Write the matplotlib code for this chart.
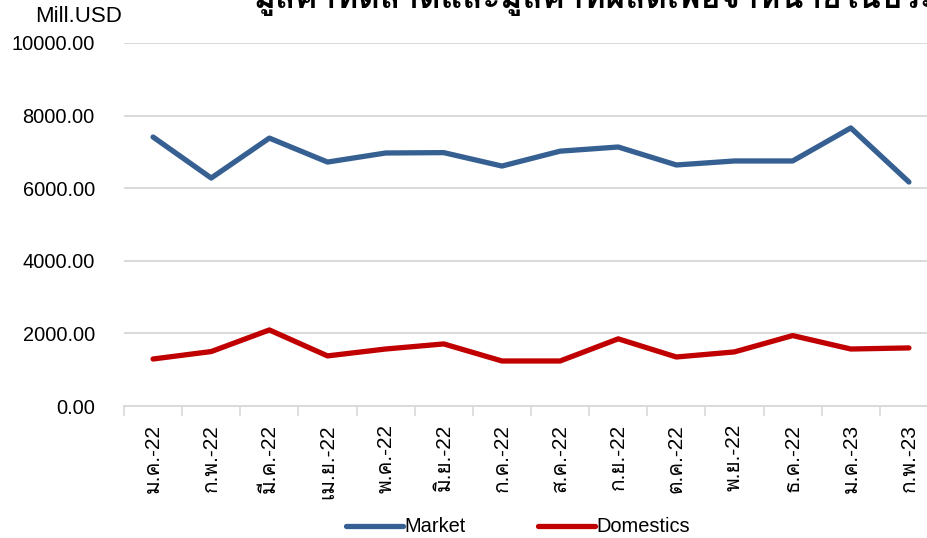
import numpy as np
from matplotlib import pyplot as plt
from matplotlib import font_manager, ft2font

months = ["ม.ค.-22", "ก.พ.-22", "มี.ค.-22", "เม.ย.-22", "พ.ค.-22", "มิ.ย.-22", "ก.ค.-22",
          "ส.ค.-22", "ก.ย.-22", "ต.ค.-22", "พ.ย.-22", "ธ.ค.-22", "ม.ค.-23", "ก.พ.-23"]
market = [7410, 6280, 7380, 6720, 6970, 6980, 6610, 7020, 7135, 6640, 6750, 6750, 7660, 6170]
domestics = [1295, 1500, 2095, 1380, 1570, 1710, 1240, 1240, 1850, 1350, 1490, 1940, 1570, 1600]
title = "มูลค่าที่ตลาดและมูลค่าที่ผลิตเพื่อจำหน่ายในประเทศ"


def find_thai_font():
    # look for any installed font that has Thai glyphs
    for f in font_manager.fontManager.ttflist:
        try:
            cmap = ft2font.FT2Font(f.fname).get_charmap()
        except Exception:
            continue
        if 0x0E01 in cmap and 0x0E48 in cmap:
            return f.name
    return None


thai = find_thai_font()
families = ['Liberation Sans'] + ([thai] if thai else []) + ['DejaVu Sans']
plt.rcParams['font.family'] = families

fig = plt.figure(figsize=(9.28, 5.38), dpi=100)
ax = fig.add_axes([124 / 928, 132 / 538, 814 / 928, 363 / 538])

x = np.arange(len(months))
ax.plot(x, market, color='#366092', lw=3.8, solid_capstyle='round', label='Market')
ax.plot(x, domestics, color='#C00000', lw=3.8, solid_capstyle='round', label='Domestics')

ax.set_xlim(-0.5, len(months) - 0.5)
ax.set_ylim(0, 10000)
ax.set_yticks(np.arange(0, 10001, 2000))
ax.set_yticklabels([f'{v:.2f}' for v in np.arange(0, 10001, 2000)], fontsize=14.4)
ax.yaxis.grid(True, color='#D9D9D9', lw=1.4)
ax.set_axisbelow(True)

ax.set_xticks(x)
ax.set_xticklabels(months, rotation=90, fontsize=15)
ax.set_xticks(np.arange(-0.5, len(months)), minor=True)
ax.tick_params(axis='x', which='major', length=0, pad=13)
ax.tick_params(axis='x', which='minor', length=7, color='#D9D9D9', width=1.2)
ax.tick_params(axis='y', length=0, pad=21)

for side in ['left', 'right', 'top']:
    ax.spines[side].set_visible(False)
ax.spines['bottom'].set_color('#D9D9D9')
ax.spines['bottom'].set_linewidth(1.4)

fig.text(79 / 928, 1 - 17 / 538, 'Mill.USD', ha='center', va='center', fontsize=16)
fig.text(254 / 928, 1 - 8 / 538, title, ha='left', va='baseline',
         fontsize=24, fontweight='bold')

fig.legend(loc='center', bbox_to_anchor=(518 / 928, 1 - 527 / 538), ncol=2,
           frameon=False, fontsize=14.4, handlelength=2.85, handletextpad=0.1,
           columnspacing=3.6)

plt.savefig('out.png', dpi=100)
